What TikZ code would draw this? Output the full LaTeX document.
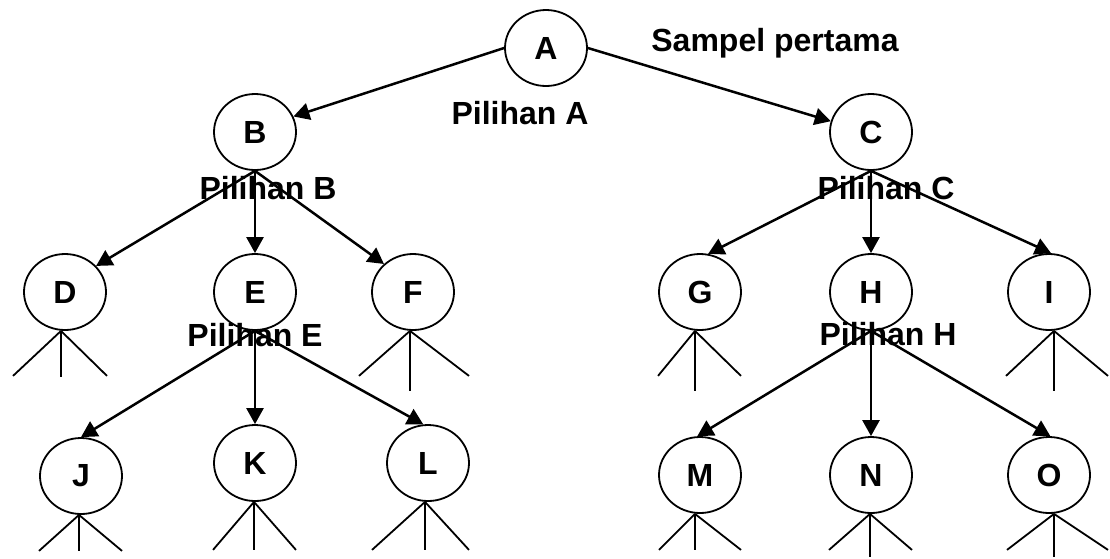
\documentclass[tikz,border=0pt]{standalone}
\usepackage{fontspec}
\setmainfont{Liberation Sans}
\usetikzlibrary{shapes.geometric,arrows.meta}
\begin{document}
\begin{tikzpicture}[x=1pt,y=-1pt,
  nd/.style={draw,ellipse,line width=1.8pt,minimum width=82pt,minimum height=76pt,inner sep=0pt,
    font=\fontsize{32}{38}\selectfont\bfseries},
  lbl/.style={font=\fontsize{32}{38}\selectfont\bfseries,inner sep=0pt,anchor=base},
  arr/.style={line width=2.5pt,-{Triangle[length=16pt,width=17pt]}},
  stick/.style={line width=1.8pt}]
\useasboundingbox (0,0) rectangle (1110,558);
% nodes
\node[nd] (A) at (546,48) {A};
\node[nd] (B) at (255,132) {B};
\node[nd] (C) at (871,132) {C};
\node[nd] (D) at (65,292) {D};
\node[nd] (E) at (255,292) {E};
\node[nd] (F) at (413,292) {F};
\node[nd] (G) at (700,292) {G};
\node[nd] (H) at (871,292) {H};
\node[nd] (I) at (1049,292) {I};
\node[nd] (J) at (81,476) {J};
\node[nd] (K) at (255,463) {K};
\node[nd] (L) at (428,463) {L};
\node[nd] (M) at (700,475) {M};
\node[nd] (N) at (871,475) {N};
\node[nd] (O) at (1049,475) {O};
% arrows
\draw[arr] (A.west) -- (B.22);
\draw[arr] (A.east) -- (C.165);
\draw[arr] (B.south) -- (D.40);
\draw[arr] (B.south) -- (E.north);
\draw[arr] (B.south) -- (F.136);
\draw[arr] (C.south) -- (G.78);
\draw[arr] (C.south) -- (H.north);
\draw[arr] (C.south) -- (I.87);
\draw[arr] (E.south) -- (J.north);
\draw[arr] (E.south) -- (K.north);
\draw[arr] (E.south) -- (L.97);
\draw[arr] (H.south) -- (M.94);
\draw[arr] (H.south) -- (N.north);
\draw[arr] (H.south) -- (O.88);
% sticks
\draw[stick] ([xshift=-4pt]D.south) coordinate (d0) -- ++(-48,45) (d0) -- ++(0,46) (d0) -- ++(46,45);
\draw[stick] ([xshift=-3pt]F.south) coordinate (f0) -- ++(-51,45) (f0) -- ++(0,60) (f0) -- ++(59,45);
\draw[stick] ([xshift=-5pt]G.south) coordinate (g0) -- ++(-37,45) (g0) -- ++(0,60) (g0) -- ++(46,45);
\draw[stick] ([xshift=5pt]I.south) coordinate (i0) -- ++(-48,45) (i0) -- ++(0,60) (i0) -- ++(54,45);
\draw[stick] ([xshift=-2pt]J.south) coordinate (j0) -- ++(-40,36) (j0) -- ++(0,36) (j0) -- ++(43,36);
\draw[stick] ([xshift=-1pt]K.south) coordinate (k0) -- ++(-41,48) (k0) -- ++(0,48) (k0) -- ++(42,48);
\draw[stick] ([xshift=-3pt]L.south) coordinate (l0) -- ++(-53,48) (l0) -- ++(0,48) (l0) -- ++(44,48);
\draw[stick] ([xshift=-5pt]M.south) coordinate (m0) -- ++(-36,36) (m0) -- ++(0,36) (m0) -- ++(46,36);
\draw[stick] ([xshift=-1pt]N.south) coordinate (n0) -- ++(-41,36) (n0) -- ++(0,43) (n0) -- ++(42,36);
\draw[stick] ([xshift=5pt]O.south) coordinate (o0) -- ++(-47,36) (o0) -- ++(0,43) (o0) -- ++(54,36);
% labels
\node[lbl] (sp) at (775,51) {Sampel pertama};
\node[lbl] (pa) at (520,124) {Pilihan A};
\node[lbl] (pb) at (268,199) {Pilihan B};
\node[lbl] (pc) at (886,199) {Pilihan C};
\node[lbl] (pe) at (255,346) {Pilihan E};
\node[lbl] (ph) at (888,345) {Pilihan H};
\end{tikzpicture}
\end{document}
